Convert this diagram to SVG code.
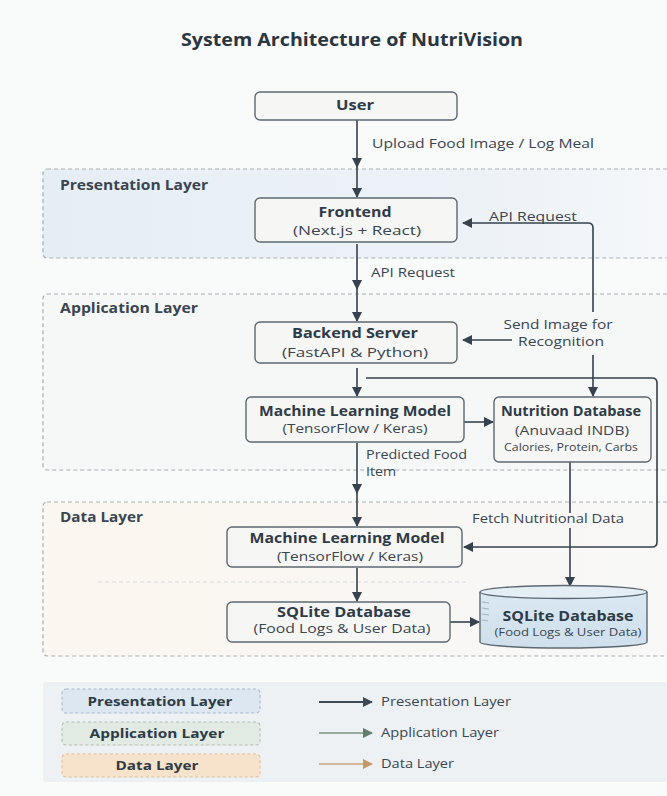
<svg xmlns="http://www.w3.org/2000/svg" width="667" height="796" viewBox="0 0 667 796">
<defs>
<linearGradient id="gPres" x1="0" y1="0" x2="1" y2="0">
<stop offset="0" stop-color="#e6eef5"/><stop offset="0.7" stop-color="#edf2f7"/><stop offset="1" stop-color="#f6f8fa"/>
</linearGradient>
<linearGradient id="gData" x1="0" y1="0" x2="1" y2="0">
<stop offset="0" stop-color="#fbf6ef"/><stop offset="1" stop-color="#f8f8f8"/>
</linearGradient>
<linearGradient id="gCyl" x1="0" y1="0" x2="0" y2="1">
<stop offset="0" stop-color="#dae8f2"/><stop offset="1" stop-color="#cfe0ec"/>
</linearGradient>
<marker id="ah" viewBox="0 0 10 10" refX="9" refY="5" markerWidth="10" markerHeight="10" markerUnits="userSpaceOnUse" orient="auto">
<path d="M0,0 L10,5 L0,10 z" fill="#36424d"/>
</marker>
<marker id="ahP" viewBox="0 0 10 10" refX="9" refY="5" markerWidth="10" markerHeight="10" markerUnits="userSpaceOnUse" orient="auto">
<path d="M0,0 L10,5 L0,10 z" fill="#3d4a57"/>
</marker>
<marker id="ahA" viewBox="0 0 10 10" refX="9" refY="5" markerWidth="10" markerHeight="10" markerUnits="userSpaceOnUse" orient="auto">
<path d="M0,0 L10,5 L0,10 z" fill="#5f7f6b"/>
</marker>
<marker id="ahD" viewBox="0 0 10 10" refX="9" refY="5" markerWidth="10" markerHeight="10" markerUnits="userSpaceOnUse" orient="auto">
<path d="M0,0 L10,5 L0,10 z" fill="#c39a68"/>
</marker>
</defs>
<style>
text{font-family:"Open Sans","Noto Sans","DejaVu Sans",sans-serif;fill:#2f3b46}
.title{font-size:17px;font-weight:700;fill:#2b3640}
.layer{font-size:13.5px;font-weight:700;fill:#3a4550}
.bt{font-size:13.5px;font-weight:700;text-anchor:middle}
.bs{font-size:12.5px;text-anchor:middle;fill:#3a4550}
.sm{font-size:10px;text-anchor:middle;fill:#3a4550}
.lbl{font-size:12.5px;fill:#3a4550}
.box{fill:#f6f6f4;stroke:#5d6872;stroke-width:1.4}
.lay{stroke:#a9b0b6;stroke-width:1.2;stroke-dasharray:4 3}
.con{fill:none;stroke:#36424d;stroke-width:1.6}
.leg{font-size:13px;font-weight:700;text-anchor:middle;fill:#2f3b46}
.legl{font-size:12px;fill:#3a4550}
.tick{stroke:#9fb3c2;stroke-width:1}
</style>
<rect x="0" y="0" width="667" height="796" fill="#f8f9f9"/>
<rect x="8" y="8" width="659" height="788" fill="#f9fafa"/>
<text class="title" x="352" y="46" text-anchor="middle" textLength="342" lengthAdjust="spacingAndGlyphs">System Architecture of NutriVision</text>

<g id="layers">
<rect id="presentation-layer" class="lay" x="43" y="169" width="640" height="89" rx="4" fill="url(#gPres)"/>
<rect id="application-layer" class="lay" x="43" y="294" width="640" height="176" rx="4" fill="#f6f7f7"/>
<rect id="data-layer" class="lay" x="43" y="502" width="640" height="154" rx="4" fill="url(#gData)"/>
<line x1="98" y1="582" x2="468" y2="582" stroke="#d6d9dc" stroke-width="1" stroke-dasharray="4 3"/>
<text class="layer" x="60" y="190" textLength="148" lengthAdjust="spacingAndGlyphs">Presentation Layer</text>
<text class="layer" x="60" y="313" textLength="138" lengthAdjust="spacingAndGlyphs">Application Layer</text>
<text class="layer" x="60" y="522" textLength="83" lengthAdjust="spacingAndGlyphs">Data Layer</text>
</g>

<g id="connectors">
<path class="con" d="M357,120 V167" marker-end="url(#ah)"/>
<path class="con" d="M357,167 V197" marker-end="url(#ah)"/>
<path class="con" d="M357,244 V289" marker-end="url(#ah)"/>
<path class="con" d="M357,289 V321" marker-end="url(#ah)"/>
<path class="con" d="M593,312 V228 Q593,223 588,223 H463" marker-end="url(#ah)"/>
<path class="con" d="M512,340 H463" marker-end="url(#ah)"/>
<path class="con" d="M593,355 V396" marker-end="url(#ah)"/>
<path class="con" d="M357,368 V396" marker-end="url(#ah)"/>
<path class="con" d="M366,378 H652 Q657,378 657,383 V542 Q657,547 652,547 H464" marker-end="url(#ah)"/>
<path class="con" d="M464,422 H493" marker-end="url(#ah)"/>
<path class="con" d="M357,443 V493" marker-end="url(#ah)"/>
<path class="con" d="M357,493 V526" marker-end="url(#ah)"/>
<path class="con" d="M570,462 V513"/>
<path class="con" d="M570,528 V586" marker-end="url(#ah)"/>
<path class="con" d="M357,568 V601" marker-end="url(#ah)"/>
<path class="con" d="M450,622 H479" marker-end="url(#ah)"/>
<text class="lbl" x="372" y="148" textLength="222" lengthAdjust="spacingAndGlyphs">Upload Food Image / Log Meal</text>
<text class="lbl" x="489" y="221" textLength="88" lengthAdjust="spacingAndGlyphs">API Request</text>
<text class="lbl" x="371" y="277" textLength="84" lengthAdjust="spacingAndGlyphs">API Request</text>
<text class="lbl" x="558" y="329" text-anchor="middle" textLength="109" lengthAdjust="spacingAndGlyphs">Send Image for</text>
<text class="lbl" x="561" y="346" text-anchor="middle" textLength="86" lengthAdjust="spacingAndGlyphs">Recognition</text>
<text class="lbl" x="366" y="459" textLength="101" lengthAdjust="spacingAndGlyphs">Predicted Food</text>
<text class="lbl" x="366" y="476" textLength="30" lengthAdjust="spacingAndGlyphs">Item</text>
<text class="lbl" x="472" y="523" textLength="152" lengthAdjust="spacingAndGlyphs">Fetch Nutritional Data</text>
</g>

<g id="user">
<rect class="box" x="255" y="92" width="202" height="28" rx="5"/>
<text class="bt" x="355" y="110" textLength="38" lengthAdjust="spacingAndGlyphs">User</text>
</g>
<g id="frontend">
<rect class="box" x="255" y="198" width="202" height="44" rx="5" fill="#f7f5f0"/>
<text class="bt" x="355" y="217" textLength="73" lengthAdjust="spacingAndGlyphs">Frontend</text>
<text class="bs" x="357" y="235" textLength="128" lengthAdjust="spacingAndGlyphs">(Next.js + React)</text>
</g>
<g id="backend">
<rect class="box" x="255" y="322" width="202" height="41" rx="5"/>
<text class="bt" x="355" y="338" textLength="126" lengthAdjust="spacingAndGlyphs">Backend Server</text>
<text class="bs" x="355" y="357" textLength="146" lengthAdjust="spacingAndGlyphs">(FastAPI &amp; Python)</text>
</g>
<g id="ml-model-app">
<rect class="box" x="246" y="397" width="218" height="45" rx="5"/>
<text class="bt" x="355" y="416" textLength="192" lengthAdjust="spacingAndGlyphs">Machine Learning Model</text>
<text class="bs" x="355" y="433" textLength="145" lengthAdjust="spacingAndGlyphs">(TensorFlow / Keras)</text>
</g>
<g id="nutrition-db">
<rect class="box" x="494" y="397" width="157" height="65" rx="5"/>
<text class="bt" x="571" y="416" textLength="140" lengthAdjust="spacingAndGlyphs">Nutrition Database</text>
<text class="bs" x="572" y="435" textLength="114" lengthAdjust="spacingAndGlyphs">(Anuvaad INDB)</text>
<text class="sm" x="571" y="451" textLength="134" lengthAdjust="spacingAndGlyphs">Calories, Protein, Carbs</text>
</g>
<g id="ml-model-data">
<rect class="box" x="227" y="527" width="235" height="40" rx="5"/>
<text class="bt" x="347" y="543" textLength="195" lengthAdjust="spacingAndGlyphs">Machine Learning Model</text>
<text class="bs" x="350" y="561" textLength="146" lengthAdjust="spacingAndGlyphs">(TensorFlow / Keras)</text>
</g>
<g id="sqlite-box">
<rect class="box" x="227" y="602" width="223" height="40" rx="5"/>
<text class="bt" x="344" y="617" textLength="134" lengthAdjust="spacingAndGlyphs">SQLite Database</text>
<text class="bs" x="342" y="633" textLength="177" lengthAdjust="spacingAndGlyphs">(Food Logs &amp; User Data)</text>
</g>
<g id="sqlite-cylinder">
<path d="M480,592 V642 A83.5,6 0 0 0 647,642 V592" fill="url(#gCyl)" stroke="#5d6872" stroke-width="1.4"/>
<ellipse cx="563.5" cy="592" rx="83.5" ry="6.5" fill="#e4eef5" stroke="#5d6872" stroke-width="1.4"/>
<line class="tick" x1="482" y1="602" x2="489" y2="603"/>
<line class="tick" x1="482" y1="608" x2="489" y2="609"/>
<line class="tick" x1="482" y1="614" x2="489" y2="615"/>
<line class="tick" x1="482" y1="620" x2="488" y2="621"/>
<text class="bt" x="568" y="621" textLength="131" lengthAdjust="spacingAndGlyphs">SQLite Database</text>
<text class="sm" x="568" y="636" font-size="10.5" textLength="147" lengthAdjust="spacingAndGlyphs">(Food Logs &amp; User Data)</text>
</g>

<g id="legend">
<rect x="43" y="682" width="630" height="100" rx="3" fill="#edf1f4"/>
<rect x="62" y="689" width="198" height="24" rx="4" fill="#dce7f2" stroke="#a6b8cb" stroke-width="1.1" stroke-dasharray="3 2.5"/>
<text class="leg" x="160" y="706" textLength="145" lengthAdjust="spacingAndGlyphs">Presentation Layer</text>
<rect x="62" y="722" width="198" height="23" rx="4" fill="#e1ebe3" stroke="#afc1b2" stroke-width="1.1" stroke-dasharray="3 2.5"/>
<text class="leg" x="157" y="738" textLength="135" lengthAdjust="spacingAndGlyphs">Application Layer</text>
<rect x="62" y="754" width="198" height="23" rx="4" fill="#f7e2cb" stroke="#e2bf98" stroke-width="1.1" stroke-dasharray="3 2.5"/>
<text class="leg" x="157" y="770" textLength="83" lengthAdjust="spacingAndGlyphs">Data Layer</text>
<path d="M319,702 H372" stroke="#3d4a57" stroke-width="2" fill="none" marker-end="url(#ahP)"/>
<path d="M319,733 H372" stroke="#7a9383" stroke-width="1.6" fill="none" marker-end="url(#ahA)"/>
<path d="M319,764 H372" stroke="#c9a67c" stroke-width="1.6" fill="none" marker-end="url(#ahD)"/>
<text class="legl" x="381" y="706" textLength="130" lengthAdjust="spacingAndGlyphs">Presentation Layer</text>
<text class="legl" x="381" y="737" textLength="118" lengthAdjust="spacingAndGlyphs">Application Layer</text>
<text class="legl" x="381" y="768" textLength="73" lengthAdjust="spacingAndGlyphs">Data Layer</text>
</g>
</svg>
